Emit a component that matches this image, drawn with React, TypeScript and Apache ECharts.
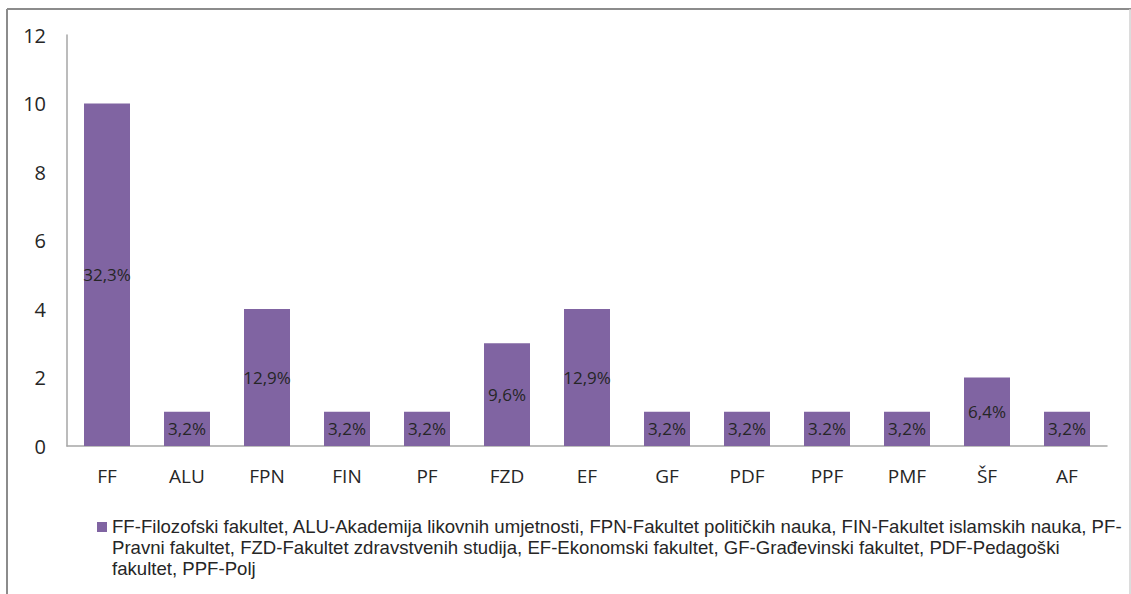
import React, { useEffect, useRef } from "react";
import * as echarts from "echarts";

const categories = ["FF", "ALU", "FPN", "FIN", "PF", "FZD", "EF", "GF", "PDF", "PPF", "PMF", "ŠF", "AF"];
const values = [10, 1, 4, 1, 1, 3, 4, 1, 1, 1, 1, 2, 1];
const barLabels = ["32,3%", "3,2%", "12,9%", "3,2%", "3,2%", "9,6%", "12,9%", "3,2%", "3,2%", "3.2%", "3,2%", "6,4%", "3,2%"];
const yTicks = { min: 0, max: 12, interval: 2 };
const legendLines = [
  "FF-Filozofski fakultet, ALU-Akademija likovnih umjetnosti, FPN-Fakultet političkih nauka, FIN-Fakultet islamskih nauka, PF-",
  "Pravni fakultet, FZD-Fakultet zdravstvenih studija, EF-Ekonomski fakultet, GF-Građevinski fakultet, PDF-Pedagoški",
  "fakultet, PPF-Polj",
];

const BAR_COLOR = "#8064A2";

export default function App() {
  const ref = useRef<HTMLDivElement>(null);
  useEffect(() => {
    document.body.style.margin = "0";
    const chart = echarts.init(ref.current!, undefined, { renderer: "svg" });
    chart.setOption({
      animation: false,
      backgroundColor: "#ffffff",
      grid: { left: 67, right: 24, top: 35, bottom: 148, containLabel: false },
      xAxis: {
        type: "category",
        data: categories,
        axisLine: { lineStyle: { color: "#a6a6a6", width: 1.5 } },
        axisTick: { show: false },
        axisLabel: { color: "#262626", fontSize: 19, margin: 20, fontFamily: "Open Sans" },
      },
      yAxis: {
        type: "value",
        min: yTicks.min,
        max: yTicks.max,
        interval: yTicks.interval,
        axisLine: { show: true, lineStyle: { color: "#a6a6a6", width: 1.5 } },
        axisTick: { show: false },
        splitLine: { show: false },
        axisLabel: { color: "#262626", fontSize: 20, margin: 21, fontFamily: "Open Sans" },
      },
      series: [
        {
          type: "bar",
          name: legendLines.join(""),
          data: values,
          barWidth: 46,
          itemStyle: { color: BAR_COLOR },
          label: {
            show: true,
            position: "inside",
            color: "#262626",
            fontSize: 17,
            fontFamily: "Open Sans",
            formatter: (p: any) => barLabels[p.dataIndex],
          },
        },
      ],
      graphic: [
        { type: "line", shape: { x1: 7, y1: 9, x2: 1131, y2: 9 }, style: { stroke: "#8c8c8c", lineWidth: 2 } },
        { type: "line", shape: { x1: 7, y1: 9, x2: 7, y2: 594 }, style: { stroke: "#8c8c8c", lineWidth: 2 } },
        { type: "line", shape: { x1: 1130, y1: 9, x2: 1130, y2: 594 }, style: { stroke: "#d0d0d0", lineWidth: 1.5 } },
        { type: "rect", shape: { x: 97, y: 522, width: 10, height: 10 }, style: { fill: BAR_COLOR } },
        {
          type: "text",
          x: 112,
          y: 516,
          style: {
            text: legendLines.join("\n"),
            fill: "#262626",
            fontFamily: "Liberation Sans",
            fontSize: 18.6,
            lineHeight: 21,
          },
        },
      ],
    });
    return () => chart.dispose();
  }, []);
  return <div ref={ref} style={{ width: 1131, height: 594, position: "absolute", left: 0, top: 0 }} />;
}
